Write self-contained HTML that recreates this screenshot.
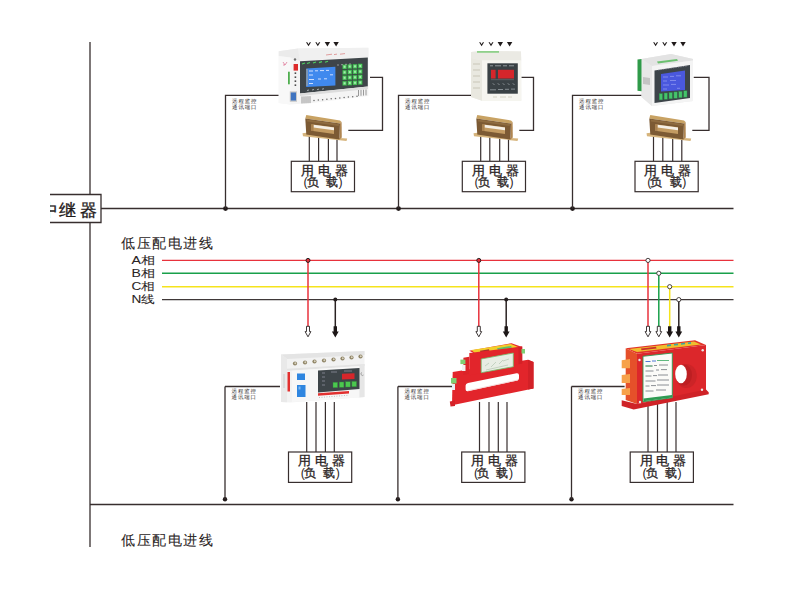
<!DOCTYPE html>
<html><head><meta charset="utf-8">
<style>
html,body{margin:0;padding:0;background:#fff;}
body{width:800px;height:600px;overflow:hidden;position:relative;font-family:"Liberation Sans",sans-serif;}
svg{position:absolute;left:0;top:0;}
</style></head><body>
<svg width="800" height="600" viewBox="0 0 800 600" font-family="Liberation Sans, sans-serif">
<line x1="90" y1="42" x2="90" y2="547" stroke="#372e2e" stroke-width="1.3"/>
<line x1="101" y1="208.5" x2="733.5" y2="208.5" stroke="#372e2e" stroke-width="1.3"/>
<line x1="90" y1="504.5" x2="733.5" y2="504.5" stroke="#372e2e" stroke-width="1.3"/>
<clipPath id="cl"><rect x="50" y="190" width="60" height="40"/></clipPath>
<path d="M50 194.5 H101 V222.5 H50" fill="#fff" stroke="#372e2e" stroke-width="1.3"/>
<text x="40.6 58.9 79.5" y="216.2" font-size="17.4" fill="#1f1a1a" clip-path="url(#cl)" stroke="#1f1a1a" stroke-width="0.3">中继器</text>
<text x="121.0 136.6 152.2 167.8 183.4 199.0" y="248.3" font-size="14" fill="#2a2424" stroke="#2a2424" stroke-width="0.08">低压配电进线</text>
<text x="121.0 136.6 152.2 167.8 183.4 199.0" y="544.6" font-size="14" fill="#2a2424" stroke="#2a2424" stroke-width="0.08">低压配电进线</text>
<text x="131.6" y="264.3" font-size="10.9" fill="#2a2424" textLength="23.6" lengthAdjust="spacingAndGlyphs" stroke="#2a2424" stroke-width="0.05">A相</text>
<text x="131.6" y="276.9" font-size="10.9" fill="#2a2424" textLength="23.6" lengthAdjust="spacingAndGlyphs" stroke="#2a2424" stroke-width="0.05">B相</text>
<text x="131.6" y="289.6" font-size="10.9" fill="#2a2424" textLength="23.6" lengthAdjust="spacingAndGlyphs" stroke="#2a2424" stroke-width="0.05">C相</text>
<text x="131.6" y="302.8" font-size="10.9" fill="#2a2424" textLength="23.6" lengthAdjust="spacingAndGlyphs" stroke="#2a2424" stroke-width="0.05">N线</text>
<line x1="162" y1="260.4" x2="733.5" y2="260.4" stroke="#e8323c" stroke-width="1.4"/>
<line x1="162" y1="273.3" x2="733.5" y2="273.3" stroke="#19a04a" stroke-width="1.4"/>
<line x1="162" y1="286.7" x2="733.5" y2="286.7" stroke="#f5e31c" stroke-width="1.4"/>
<line x1="162" y1="299.6" x2="733.5" y2="299.6" stroke="#3f3838" stroke-width="1.4"/>
<circle cx="225.5" cy="208.6" r="2.4" fill="#231c1c"/>
<circle cx="398.5" cy="208.6" r="2.4" fill="#231c1c"/>
<circle cx="572.5" cy="208.6" r="2.4" fill="#231c1c"/>
<circle cx="225" cy="499.3" r="2.2" fill="#231c1c"/>
<line x1="225" y1="386.5" x2="225" y2="499.3" stroke="#372e2e" stroke-width="1.3"/>
<circle cx="397.9" cy="499.3" r="2.2" fill="#231c1c"/>
<line x1="397.9" y1="386.5" x2="397.9" y2="499.3" stroke="#372e2e" stroke-width="1.3"/>
<circle cx="571.5" cy="499.3" r="2.2" fill="#231c1c"/>
<line x1="571.5" y1="386.5" x2="571.5" y2="499.3" stroke="#372e2e" stroke-width="1.3"/>
<polyline points="225.5,208.5 225.5,95.3 279,95.3" fill="none" stroke="#372e2e" stroke-width="1.3"/>
<text x="232.1 238.4 244.7 251.0" y="103.30000000000001" font-size="5.4" fill="#2a2626" style="text-rendering:geometricPrecision">远程监控</text>
<text x="232.1 238.4 244.7 251.0" y="109.30000000000001" font-size="5.4" fill="#2a2626" style="text-rendering:geometricPrecision">通讯端口</text>
<polyline points="370,77.3 382.5,77.3 382.5,130.4 348.3,130.4" fill="none" stroke="#372e2e" stroke-width="1.3"/>
<line x1="309.3" y1="136" x2="309.3" y2="161.3" stroke="#372e2e" stroke-width="1.2"/>
<line x1="318.6" y1="136" x2="318.6" y2="161.3" stroke="#372e2e" stroke-width="1.2"/>
<line x1="328.4" y1="136" x2="328.4" y2="161.3" stroke="#372e2e" stroke-width="1.2"/>
<line x1="337" y1="136" x2="337" y2="161.3" stroke="#372e2e" stroke-width="1.2"/>
<rect x="291.3" y="161.3" width="63.2" height="30.4" fill="#fff" stroke="#372e2e" stroke-width="1.2"/>
<text x="300.7 317.5 334.5" y="174.5" font-size="12.6" fill="#2a2424" stroke="#2a2424" stroke-width="0.3">用电器</text>
<text x="303.5" y="185.9" font-size="12.3" fill="#2a2424">(</text>
<text x="306.7 325.8" y="185.9" font-size="12.3" fill="#2a2424" stroke="#2a2424" stroke-width="0.3">负载</text>
<text x="338.5" y="185.9" font-size="12.3" fill="#2a2424">)</text>
<path d="M306.0 42.2 L308.5 46.3 L311.0 42.2 L309.7 42.2 L308.5 44.3 L307.3 42.2 Z" fill="#1f1a1a"/>
<path d="M315.3 42.2 L317.8 46.3 L320.3 42.2 L319.0 42.2 L317.8 44.3 L316.6 42.2 Z" fill="#1f1a1a"/>
<path d="M324.7 42 H330.09999999999997 L327.4 46.4 Z" fill="#1f1a1a"/>
<path d="M333.40000000000003 42 H338.8 L336.1 46.4 Z" fill="#1f1a1a"/>
<g transform="translate(302.5,115.1)"><polygon points="0.00,18.10 3.80,17.70 37.00,22.90 44.70,23.30 44.00,25.80 0.50,21.20" fill="#d6b47c"/><polygon points="3.75,0.00 37.50,5.30 39.10,6.90 37.50,8.50 2.80,3.50" fill="#c8a263"/><polygon points="37.50,8.50 39.10,6.90 39.30,22.50 36.90,24.40" fill="#b08652"/><polygon points="2.80,3.50 37.50,8.50 36.90,24.40 3.75,19.40" fill="#7c5a34"/><polygon points="4.50,4.40 36.50,8.90 36.10,10.90 4.50,6.40" fill="#8e6b40"/><polygon points="8.75,9.10 31.50,12.20 31.50,18.80 8.75,15.65" fill="#c39b62"/><polygon points="11.00,9.60 31.50,12.40 31.50,15.10 11.00,12.40" fill="#f5efe6"/><polygon points="8.75,9.10 11.00,9.60 11.00,15.80 8.75,15.65" fill="#a98150"/></g>
<polyline points="398.5,208.5 398.5,95.3 476,95.3" fill="none" stroke="#372e2e" stroke-width="1.3"/>
<text x="405.1 411.4 417.7 424.0" y="103.30000000000001" font-size="5.4" fill="#2a2626" style="text-rendering:geometricPrecision">远程监控</text>
<text x="405.1 411.4 417.7 424.0" y="109.30000000000001" font-size="5.4" fill="#2a2626" style="text-rendering:geometricPrecision">通讯端口</text>
<polyline points="521.3,77.3 533.5,77.3 533.5,130.4 519.3,130.4" fill="none" stroke="#372e2e" stroke-width="1.3"/>
<line x1="480.7" y1="136" x2="480.7" y2="161.3" stroke="#372e2e" stroke-width="1.2"/>
<line x1="489.8" y1="136" x2="489.8" y2="161.3" stroke="#372e2e" stroke-width="1.2"/>
<line x1="499.7" y1="136" x2="499.7" y2="161.3" stroke="#372e2e" stroke-width="1.2"/>
<line x1="508.5" y1="136" x2="508.5" y2="161.3" stroke="#372e2e" stroke-width="1.2"/>
<rect x="462.3" y="161.3" width="63.2" height="30.4" fill="#fff" stroke="#372e2e" stroke-width="1.2"/>
<text x="471.7 488.5 505.5" y="174.5" font-size="12.6" fill="#2a2424" stroke="#2a2424" stroke-width="0.3">用电器</text>
<text x="474.5" y="185.9" font-size="12.3" fill="#2a2424">(</text>
<text x="477.7 496.8" y="185.9" font-size="12.3" fill="#2a2424" stroke="#2a2424" stroke-width="0.3">负载</text>
<text x="509.5" y="185.9" font-size="12.3" fill="#2a2424">)</text>
<path d="M479.1 42.2 L481.6 46.3 L484.1 42.2 L482.8 42.2 L481.6 44.3 L480.40000000000003 42.2 Z" fill="#1f1a1a"/>
<path d="M488.5 42.2 L491 46.3 L493.5 42.2 L492.2 42.2 L491 44.3 L489.8 42.2 Z" fill="#1f1a1a"/>
<path d="M497.6 42 H503.0 L500.3 46.4 Z" fill="#1f1a1a"/>
<path d="M506.90000000000003 42 H512.3000000000001 L509.6 46.4 Z" fill="#1f1a1a"/>
<g transform="translate(473.5,115.1)"><polygon points="0.00,18.10 3.80,17.70 37.00,22.90 44.70,23.30 44.00,25.80 0.50,21.20" fill="#d6b47c"/><polygon points="3.75,0.00 37.50,5.30 39.10,6.90 37.50,8.50 2.80,3.50" fill="#c8a263"/><polygon points="37.50,8.50 39.10,6.90 39.30,22.50 36.90,24.40" fill="#b08652"/><polygon points="2.80,3.50 37.50,8.50 36.90,24.40 3.75,19.40" fill="#7c5a34"/><polygon points="4.50,4.40 36.50,8.90 36.10,10.90 4.50,6.40" fill="#8e6b40"/><polygon points="8.75,9.10 31.50,12.20 31.50,18.80 8.75,15.65" fill="#c39b62"/><polygon points="11.00,9.60 31.50,12.40 31.50,15.10 11.00,12.40" fill="#f5efe6"/><polygon points="8.75,9.10 11.00,9.60 11.00,15.80 8.75,15.65" fill="#a98150"/></g>
<polyline points="572.5,208.5 572.5,95.3 645,95.3" fill="none" stroke="#372e2e" stroke-width="1.3"/>
<text x="579.1 585.4 591.7 598.0" y="103.30000000000001" font-size="5.4" fill="#2a2626" style="text-rendering:geometricPrecision">远程监控</text>
<text x="579.1 585.4 591.7 598.0" y="109.30000000000001" font-size="5.4" fill="#2a2626" style="text-rendering:geometricPrecision">通讯端口</text>
<polyline points="693.75,77.3 709,77.3 709,130.4 692.3,130.4" fill="none" stroke="#372e2e" stroke-width="1.3"/>
<line x1="653.5" y1="136" x2="653.5" y2="161.3" stroke="#372e2e" stroke-width="1.2"/>
<line x1="662.8" y1="136" x2="662.8" y2="161.3" stroke="#372e2e" stroke-width="1.2"/>
<line x1="672.7" y1="136" x2="672.7" y2="161.3" stroke="#372e2e" stroke-width="1.2"/>
<line x1="681.8" y1="136" x2="681.8" y2="161.3" stroke="#372e2e" stroke-width="1.2"/>
<rect x="635" y="161.3" width="63.2" height="30.4" fill="#fff" stroke="#372e2e" stroke-width="1.2"/>
<text x="644.4 661.2 678.2" y="174.5" font-size="12.6" fill="#2a2424" stroke="#2a2424" stroke-width="0.3">用电器</text>
<text x="647.2" y="185.9" font-size="12.3" fill="#2a2424">(</text>
<text x="650.4 669.5" y="185.9" font-size="12.3" fill="#2a2424" stroke="#2a2424" stroke-width="0.3">负载</text>
<text x="682.2" y="185.9" font-size="12.3" fill="#2a2424">)</text>
<path d="M653.1 42.2 L655.6 46.3 L658.1 42.2 L656.8000000000001 42.2 L655.6 44.3 L654.4 42.2 Z" fill="#1f1a1a"/>
<path d="M662.25 42.2 L664.75 46.3 L667.25 42.2 L665.95 42.2 L664.75 44.3 L663.55 42.2 Z" fill="#1f1a1a"/>
<path d="M671.3 42 H676.7 L674 46.4 Z" fill="#1f1a1a"/>
<path d="M680.3 42 H685.7 L683 46.4 Z" fill="#1f1a1a"/>
<g transform="translate(646.5,115.1)"><polygon points="0.00,18.10 3.80,17.70 37.00,22.90 44.70,23.30 44.00,25.80 0.50,21.20" fill="#d6b47c"/><polygon points="3.75,0.00 37.50,5.30 39.10,6.90 37.50,8.50 2.80,3.50" fill="#c8a263"/><polygon points="37.50,8.50 39.10,6.90 39.30,22.50 36.90,24.40" fill="#b08652"/><polygon points="2.80,3.50 37.50,8.50 36.90,24.40 3.75,19.40" fill="#7c5a34"/><polygon points="4.50,4.40 36.50,8.90 36.10,10.90 4.50,6.40" fill="#8e6b40"/><polygon points="8.75,9.10 31.50,12.20 31.50,18.80 8.75,15.65" fill="#c39b62"/><polygon points="11.00,9.60 31.50,12.40 31.50,15.10 11.00,12.40" fill="#f5efe6"/><polygon points="8.75,9.10 11.00,9.60 11.00,15.80 8.75,15.65" fill="#a98150"/></g>
<g><polygon points="278.7,51.3 298,48.6 368.4,47.8 368.4,96 312,103 290,104.5 278.7,103" fill="#f4f4f4"/><polygon points="298,48.6 368.4,47.8 368.4,57 300,61" fill="#f0f0f0"/><path d="M326 55 l6 -0.8 M334 54.6 l3 -0.5 M340 54.2 l5 -0.6" stroke="#d87a7a" stroke-width="0.7"/><polygon points="278.7,51.3 298,48.6 300,61 290.5,57.5 278.7,56" fill="#ebebeb"/><polygon points="278.7,56 290.5,57.5 290.5,104.5 278.7,103" fill="#f8f8f8"/><path d="M283 62 l2 3 l2 -3 M284 64 v2" stroke="#e07a9a" stroke-width="0.8" fill="none"/><rect x="288" y="71.7" width="1.8" height="12.6" fill="#4fae4f"/><polygon points="300,61.2 367.8,57.4 367.8,86.5 300,93.5" fill="#3e4549"/><polygon points="306.2,68.4 335.4,66.7 335.4,85.4 306.2,87" fill="#4089ee"/><rect x="306.2" y="69" width="1.6" height="17" fill="#8a9aa8"/><path d="M309 71 h4 M315 70.8 h3 M320 70.6 h4 M326 70.4 h3 M309 75 h4 M330 74.8 h3 M309 79.5 h5 M318 79 h3 M324 78.8 h3 M309 83.5 h4" stroke="#dfe9ff" stroke-width="0.9"/><path d="M302 64 l3 -1 M307 63.5 l3 -1 M313 63 l3 -1 M319 62.6 l3 -1 M325 62.2 l3 -1" stroke="#4fd060" stroke-width="1.2"/><path d="M307 90.5 l2 -0.5 M312 90 l2 -0.5 M317 89.6 l2 -0.5 M322 89.2 l2 -0.5" stroke="#cfd5da" stroke-width="0.7"/><circle cx="295" cy="59.5" r="1.2" fill="#6e6e6e"/><rect x="293.6" y="64" width="4.4" height="6.6" fill="#dd2a2a"/><rect x="294.6" y="72.5" width="1.6" height="1.3" fill="#222"/><rect x="294.6" y="76.5" width="1.6" height="1.3" fill="#222"/><rect x="294.6" y="80.5" width="1.6" height="1.3" fill="#222"/><rect x="294.6" y="84.5" width="1.6" height="1.3" fill="#222"/><rect x="289.8" y="91.3" width="7.2" height="10.5" fill="#c9c9c9"/><rect x="290.8" y="92.5" width="5.2" height="8" fill="#3f74c0"/><path d="M302 96.5 v7 M304 96.4 v7 M306 96.3 v7 M308 96.2 v7 M310 96.1 v7" stroke="#8d8d8d" stroke-width="0.9"/><path d="M358.5 90 v6 M361 89.8 v6 M363.5 89.6 v6 M366 89.4 v6" stroke="#8d8d8d" stroke-width="0.9"/><polygon points="300,93.5 367.8,86.5 367.8,89 300,96" fill="#dcdcdc"/>
<rect x="342.5" y="64.6" width="4.2" height="4.4" fill="#52cc62" stroke="#2b7a3a" stroke-width="0.4"/><rect x="343.7" y="65.8" width="1.8" height="2" fill="#a6eab0"/>
<rect x="347.7" y="64.3" width="4.2" height="4.4" fill="#52cc62" stroke="#2b7a3a" stroke-width="0.4"/><rect x="348.9" y="65.5" width="1.8" height="2" fill="#a6eab0"/>
<rect x="352.9" y="64.1" width="4.2" height="4.4" fill="#52cc62" stroke="#2b7a3a" stroke-width="0.4"/><rect x="354.1" y="65.3" width="1.8" height="2" fill="#a6eab0"/>
<rect x="358.1" y="63.8" width="4.2" height="4.4" fill="#52cc62" stroke="#2b7a3a" stroke-width="0.4"/><rect x="359.3" y="65.0" width="1.8" height="2" fill="#a6eab0"/>
<rect x="342.5" y="70.1" width="4.2" height="4.4" fill="#52cc62" stroke="#2b7a3a" stroke-width="0.4"/><rect x="343.7" y="71.3" width="1.8" height="2" fill="#a6eab0"/>
<rect x="347.7" y="69.8" width="4.2" height="4.4" fill="#52cc62" stroke="#2b7a3a" stroke-width="0.4"/><rect x="348.9" y="71.0" width="1.8" height="2" fill="#a6eab0"/>
<rect x="352.9" y="69.6" width="4.2" height="4.4" fill="#52cc62" stroke="#2b7a3a" stroke-width="0.4"/><rect x="354.1" y="70.8" width="1.8" height="2" fill="#a6eab0"/>
<rect x="358.1" y="69.3" width="4.2" height="4.4" fill="#52cc62" stroke="#2b7a3a" stroke-width="0.4"/><rect x="359.3" y="70.5" width="1.8" height="2" fill="#a6eab0"/>
<rect x="342.5" y="75.6" width="4.2" height="4.4" fill="#52cc62" stroke="#2b7a3a" stroke-width="0.4"/><rect x="343.7" y="76.8" width="1.8" height="2" fill="#a6eab0"/>
<rect x="347.7" y="75.3" width="4.2" height="4.4" fill="#52cc62" stroke="#2b7a3a" stroke-width="0.4"/><rect x="348.9" y="76.5" width="1.8" height="2" fill="#a6eab0"/>
<rect x="352.9" y="75.1" width="4.2" height="4.4" fill="#52cc62" stroke="#2b7a3a" stroke-width="0.4"/><rect x="354.1" y="76.3" width="1.8" height="2" fill="#a6eab0"/>
<rect x="358.1" y="74.8" width="4.2" height="4.4" fill="#52cc62" stroke="#2b7a3a" stroke-width="0.4"/><rect x="359.3" y="76.0" width="1.8" height="2" fill="#a6eab0"/>
<rect x="342.5" y="81.1" width="4.2" height="4.4" fill="#52cc62" stroke="#2b7a3a" stroke-width="0.4"/><rect x="343.7" y="82.3" width="1.8" height="2" fill="#a6eab0"/>
<rect x="347.7" y="80.8" width="4.2" height="4.4" fill="#52cc62" stroke="#2b7a3a" stroke-width="0.4"/><rect x="348.9" y="82.0" width="1.8" height="2" fill="#a6eab0"/>
<rect x="352.9" y="80.6" width="4.2" height="4.4" fill="#52cc62" stroke="#2b7a3a" stroke-width="0.4"/><rect x="354.1" y="81.8" width="1.8" height="2" fill="#a6eab0"/>
<rect x="358.1" y="80.3" width="4.2" height="4.4" fill="#52cc62" stroke="#2b7a3a" stroke-width="0.4"/><rect x="359.3" y="81.5" width="1.8" height="2" fill="#a6eab0"/>
<circle cx="314.0" cy="100.5" r="0.75" fill="#6a6a6a"/>
<circle cx="318.3" cy="100.1" r="0.75" fill="#6a6a6a"/>
<circle cx="322.6" cy="99.7" r="0.75" fill="#6a6a6a"/>
<circle cx="326.9" cy="99.2" r="0.75" fill="#6a6a6a"/>
<circle cx="331.2" cy="98.8" r="0.75" fill="#6a6a6a"/>
<circle cx="335.5" cy="98.4" r="0.75" fill="#6a6a6a"/>
<circle cx="339.8" cy="98.0" r="0.75" fill="#6a6a6a"/>
<circle cx="344.1" cy="97.6" r="0.75" fill="#6a6a6a"/>
<circle cx="348.4" cy="97.1" r="0.75" fill="#6a6a6a"/>
<circle cx="352.7" cy="96.7" r="0.75" fill="#6a6a6a"/>
<circle cx="357.0" cy="96.3" r="0.75" fill="#6a6a6a"/>
<path d="M337 65 h2 M341 64.7 h2 M345 64.3 h2 M349 64 h2" stroke="#ccc" stroke-width="0.6"/>
</g>
<g><polygon points="471,52 482,51 521,51.5 521.3,100.7 482,100.7 471,97" fill="#f0efe9"/><polygon points="471,52 482,51 521,51.5 521.3,60.4 482,60.4 471,58" fill="#ebeae4"/><polygon points="471,58 482,60.4 482,100.7 471,97" fill="#e9e8e0"/><path d="M473 64 h7 M473 70 h7 M473 76 h7 M473 82 h7 M473 88 h7" stroke="#c9c6b8" stroke-width="1.2"/><rect x="482" y="60.4" width="39.3" height="40.3" fill="#f6f5f0"/><rect x="487.4" y="63.3" width="30.4" height="30.4" fill="#3a4145"/><path d="M490 65.8 h3 M495 65.8 h6 M503 65.8 h4 M509 65.8 h5" stroke="#b9bfc3" stroke-width="0.7"/><rect x="491" y="69.8" width="4.6" height="8.7" fill="#d5262b"/><rect x="498" y="69.8" width="16" height="8.7" fill="#d5262b"/><path d="M491 79.7 h23" stroke="#6f777b" stroke-width="0.6"/><path d="M493 83.5 l1.2 1.2 M498 83.5 l1.2 1.2 M503 83.5 l1.2 1.2 M508 83.5 l1.2 1.2 M513 83.5 l1.2 1.2" stroke="#c9cfd3" stroke-width="0.8"/><path d="M490 89.8 h6 M498 89.5 h5 M505 89.3 h4 M511 89.1 h4" stroke="#a9b0b4" stroke-width="0.7"/><path d="M493 97 h4 M500 97 h6 M508 97 h4" stroke="#cfcbbd" stroke-width="0.8"/><rect x="477" y="51" width="22" height="1.8" fill="#8fd08a"/></g>
<g><polygon points="641.5,59 671,54 693,59 693,101 652,106 641.5,97" fill="#eaeaea"/><polygon points="641.5,59 671,54 693,59 693,60.5 652,66" fill="#e3e3e3"/><polygon points="641.5,59 652,66 652,106 641.5,97" fill="#e8e8e8"/><polygon points="637.5,59.5 641.5,59 641.5,91.3 637.5,90.8" fill="#2f9a49"/><polygon points="657,61.5 677,59 678,60.8 658,63.4" fill="#6cc070"/><polygon points="652,66 693,60.5 693,101 652,106" fill="#f4f4f4"/><polygon points="654.5,70.5 690,65 690,98 654.5,103" fill="#3d444a"/><polygon points="661,74 685,70.5 685,90 661,91.5" fill="#4a58de"/><path d="M663 77 h5 M670 76.4 h4 M676 75.8 h5 M663 81 h4 M670 80.5 h6 M663 85 h6 M671 84.4 h5 M663 89 h4 M677 88.3 h3" stroke="#8f98f0" stroke-width="0.8"/><path d="M658 70 l29 -4" stroke="#aab" stroke-width="0.5" stroke-dasharray="1.5 1"/><polygon points="643,77 650,78 650,85 643,84" fill="#c4c4c4"/>
<rect x="659.2" y="93.6" width="3.3" height="6.3" fill="#45c46b" stroke="#2c8a4a" stroke-width="0.4"/>
<rect x="664.1" y="93.0" width="3.3" height="6.3" fill="#45c46b" stroke="#2c8a4a" stroke-width="0.4"/>
<rect x="669.0" y="92.5" width="3.3" height="6.3" fill="#45c46b" stroke="#2c8a4a" stroke-width="0.4"/>
<rect x="673.9" y="91.9" width="3.3" height="6.3" fill="#45c46b" stroke="#2c8a4a" stroke-width="0.4"/>
<rect x="678.8" y="91.4" width="3.3" height="6.3" fill="#45c46b" stroke="#2c8a4a" stroke-width="0.4"/>
<rect x="683.7" y="90.8" width="3.3" height="6.3" fill="#45c46b" stroke="#2c8a4a" stroke-width="0.4"/>
</g>
<polyline points="225,386.5 280,386.5" fill="none" stroke="#372e2e" stroke-width="1.3"/>
<text x="231.6 237.9 244.2 250.5" y="393.4" font-size="5.4" fill="#2a2626" style="text-rendering:geometricPrecision">远程监控</text>
<text x="231.6 237.9 244.2 250.5" y="399.4" font-size="5.4" fill="#2a2626" style="text-rendering:geometricPrecision">通讯端口</text>
<line x1="306.7" y1="402" x2="306.7" y2="452" stroke="#372e2e" stroke-width="1.2"/>
<line x1="316" y1="402" x2="316" y2="452" stroke="#372e2e" stroke-width="1.2"/>
<line x1="325.4" y1="402" x2="325.4" y2="452" stroke="#372e2e" stroke-width="1.2"/>
<line x1="334.3" y1="402" x2="334.3" y2="452" stroke="#372e2e" stroke-width="1.2"/>
<rect x="288.5" y="452" width="63.2" height="30.4" fill="#fff" stroke="#372e2e" stroke-width="1.2"/>
<text x="297.9 314.7 331.7" y="465.2" font-size="12.6" fill="#2a2424" stroke="#2a2424" stroke-width="0.3">用电器</text>
<text x="300.7" y="476.6" font-size="12.3" fill="#2a2424">(</text>
<text x="303.9 323.0" y="476.6" font-size="12.3" fill="#2a2424" stroke="#2a2424" stroke-width="0.3">负载</text>
<text x="335.7" y="476.6" font-size="12.3" fill="#2a2424">)</text>
<polyline points="397.9,386.5 454,386.5" fill="none" stroke="#372e2e" stroke-width="1.3"/>
<text x="404.5 410.8 417.1 423.4" y="393.4" font-size="5.4" fill="#2a2626" style="text-rendering:geometricPrecision">远程监控</text>
<text x="404.5 410.8 417.1 423.4" y="399.4" font-size="5.4" fill="#2a2626" style="text-rendering:geometricPrecision">通讯端口</text>
<line x1="479.5" y1="402" x2="479.5" y2="452" stroke="#372e2e" stroke-width="1.2"/>
<line x1="489" y1="402" x2="489" y2="452" stroke="#372e2e" stroke-width="1.2"/>
<line x1="498.3" y1="402" x2="498.3" y2="452" stroke="#372e2e" stroke-width="1.2"/>
<line x1="507" y1="402" x2="507" y2="452" stroke="#372e2e" stroke-width="1.2"/>
<rect x="461.7" y="452" width="63.2" height="30.4" fill="#fff" stroke="#372e2e" stroke-width="1.2"/>
<text x="471.1 487.9 504.9" y="465.2" font-size="12.6" fill="#2a2424" stroke="#2a2424" stroke-width="0.3">用电器</text>
<text x="473.9" y="476.6" font-size="12.3" fill="#2a2424">(</text>
<text x="477.1 496.2" y="476.6" font-size="12.3" fill="#2a2424" stroke="#2a2424" stroke-width="0.3">负载</text>
<text x="508.9" y="476.6" font-size="12.3" fill="#2a2424">)</text>
<polyline points="571.5,386.5 624.6,386.5" fill="none" stroke="#372e2e" stroke-width="1.3"/>
<text x="578.1 584.4 590.7 597.0" y="393.4" font-size="5.4" fill="#2a2626" style="text-rendering:geometricPrecision">远程监控</text>
<text x="578.1 584.4 590.7 597.0" y="399.4" font-size="5.4" fill="#2a2626" style="text-rendering:geometricPrecision">通讯端口</text>
<line x1="648" y1="402" x2="648" y2="452" stroke="#372e2e" stroke-width="1.2"/>
<line x1="657.5" y1="402" x2="657.5" y2="452" stroke="#372e2e" stroke-width="1.2"/>
<line x1="667.2" y1="402" x2="667.2" y2="452" stroke="#372e2e" stroke-width="1.2"/>
<line x1="676" y1="402" x2="676" y2="452" stroke="#372e2e" stroke-width="1.2"/>
<rect x="630.2" y="452" width="63.2" height="30.4" fill="#fff" stroke="#372e2e" stroke-width="1.2"/>
<text x="639.6 656.4 673.4" y="465.2" font-size="12.6" fill="#2a2424" stroke="#2a2424" stroke-width="0.3">用电器</text>
<text x="642.4000000000001" y="476.6" font-size="12.3" fill="#2a2424">(</text>
<text x="645.6 664.7" y="476.6" font-size="12.3" fill="#2a2424" stroke="#2a2424" stroke-width="0.3">负载</text>
<text x="677.4000000000001" y="476.6" font-size="12.3" fill="#2a2424">)</text>
<g><polygon points="281,354.5 364.5,351 364.5,397 290,402.5 281,402" fill="#f2f2f2"/><polygon points="281,354.5 364.5,351 364.5,355 287,359" fill="#e4e4e4"/><polygon points="281,354.5 287,358.5 287,402.3 281,402" fill="#e9e9e9"/><polygon points="287,368.8 364.5,364 364.5,366 287,370.8" fill="#e3e3e3"/><polygon points="292,370.8 359.5,366 359.5,397.5 292,402" fill="#f7f7f7"/><polygon points="359.5,366 364.5,364 364.5,397 359.5,397.5" fill="#e6e6e6"/><polygon points="318,370.5 359.5,368 359.5,389 318,392.5" fill="#3e4549"/><polygon points="342,373.8 354.5,373.2 354.5,379 342,379.6" fill="#d7262b"/><path d="M322 373 h3 M322 377 h3 M322 381 h3 M322 385 h3 M331 372 h6 M344 371 h8" stroke="#aab" stroke-width="0.6"/><rect x="297" y="373.5" width="8" height="6.5" fill="#2f86e0"/><rect x="297" y="385" width="8.5" height="12" fill="#2f86e0"/><rect x="298.5" y="386.5" width="2" height="3" fill="#7fb8f0"/><rect x="287.5" y="372" width="2.5" height="19.5" fill="#e2302f"/><path d="M284 374 v14" stroke="#bbb" stroke-width="0.6"/><polygon points="318,393.2 349,391 349,393.5 318,395.7" fill="#e2302f"/><path d="M319 397.5 l30 -2.3" stroke="#999" stroke-width="0.6" stroke-dasharray="1 1.5"/><path d="M362 372.5 a1.5 1.5 0 1 0 1.5 2.5" stroke="#777" stroke-width="0.6" fill="none"/>
<circle cx="295" cy="363.5" r="2.1" fill="#8f8466"/><circle cx="295.3" cy="363.3" r="1" fill="#d8d2bf"/>
<circle cx="305" cy="362.5" r="2.1" fill="#8f8466"/><circle cx="305.3" cy="362.3" r="1" fill="#d8d2bf"/>
<circle cx="314.5" cy="361.5" r="2.1" fill="#8f8466"/><circle cx="314.8" cy="361.3" r="1" fill="#d8d2bf"/>
<circle cx="324" cy="360.5" r="2.1" fill="#8f8466"/><circle cx="324.3" cy="360.3" r="1" fill="#d8d2bf"/>
<circle cx="333.5" cy="359.5" r="2.1" fill="#8f8466"/><circle cx="333.8" cy="359.3" r="1" fill="#d8d2bf"/>
<circle cx="342.5" cy="358.5" r="2.1" fill="#8f8466"/><circle cx="342.8" cy="358.3" r="1" fill="#d8d2bf"/>
<circle cx="351.5" cy="357.5" r="2.1" fill="#8f8466"/><circle cx="351.8" cy="357.3" r="1" fill="#d8d2bf"/>
<circle cx="360.5" cy="356.5" r="2.1" fill="#8f8466"/><circle cx="360.8" cy="356.3" r="1" fill="#d8d2bf"/>
<rect x="333.0" y="382.3" width="4.6" height="5.3" fill="#4cc84f" stroke="#2e8a3a" stroke-width="0.4"/>
<rect x="339.3" y="382.0" width="4.6" height="5.3" fill="#4cc84f" stroke="#2e8a3a" stroke-width="0.4"/>
<rect x="345.6" y="381.7" width="4.6" height="5.3" fill="#4cc84f" stroke="#2e8a3a" stroke-width="0.4"/>
<rect x="351.9" y="381.4" width="4.6" height="5.3" fill="#4cc84f" stroke="#2e8a3a" stroke-width="0.4"/>
</g>
<g><polygon points="452.7,372 528,359.8 533.5,362 533.5,388.5 452,405.3" fill="#e2252b"/><polygon points="528,359.8 533.5,362 533.5,388.5 528,389.6" fill="#d22127"/><polygon points="449.8,401.5 455,400.5 455,406 450.5,406.5" fill="#d42228"/><path d="M468 382.9 L516.5 373.3 Q519 372.9 519 375.2 L519 378.3 Q519 380 517 380.4 L468 391.2 Q465.6 391.7 465.6 389.3 L465.6 385.6 Q465.6 383.4 468 382.9 Z" fill="#ffffff"/><polygon points="468,390.2 518,379.6 518,380.5 468,391.1" fill="#f3d6d6"/><polygon points="463.4,357.8 469.3,356.8 469.3,374 463.4,375" fill="#dc2328"/><rect x="460.4" y="359.6" width="5" height="4.5" fill="#7fcf73"/><rect x="462" y="365" width="3.5" height="6" fill="#f2f2f2"/><polygon points="469.3,350.8 511.5,343.2 522.2,347 477,354.8" fill="#e8262b"/><polygon points="471.5,350 511,343.9 518.5,347.2 476,354.2" fill="#f2cf2a"/><polygon points="480,350.8 489,349.3 489.5,351.2 480.5,352.7" fill="#a8302a"/><polygon points="497,348.2 511,345.9 512,347.6 498,349.9" fill="#5fc06a"/><polygon points="469.3,353 522.2,346.5 522.2,363.5 469.3,375.5" fill="#e2252b"/><polygon points="518.5,347 522.2,346.5 522.2,363.5 518.5,364.3" fill="#d22127"/><polygon points="481.2,359 513.3,353 513.3,366.7 481.2,372.7" fill="#e8ede4" stroke="#6fbf6a" stroke-width="0.8"/><path d="M485 366 l4 -3 M491 367 l5 -5 M499 364 l4 -4 M486 370 l22 -5 M503 361 l6 -2" stroke="#a9bfa8" stroke-width="0.6"/><rect x="521.5" y="349" width="3.5" height="4.5" fill="#7fcf73"/><rect x="451" y="378" width="5.5" height="5.5" fill="#7fcf73"/><rect x="452" y="384" width="3" height="6" fill="#e8f0f6"/></g>
<g><polygon points="625.7,348.3 695,340.3 706,345 637,353.7" fill="#e2342a"/><polygon points="629,349 694,341.5 701,344.5 637,352" fill="#efbf2e"/><polygon points="641,348.5 656,346.8 656.5,348.5 641.5,350.2" fill="#c9302a"/><path d="M667 345.6 l4 -0.45 M674 344.8 l4 -0.45 M681 344 l4 -0.45 M688 343.2 l3 -0.35" stroke="#3aa6a0" stroke-width="1.6"/><polygon points="625.7,348.3 637,353.7 637,404 625.7,400" fill="#e5502a"/><polygon points="621.7,360.3 630,359 630,368.3 621.7,368.3" fill="#f7a24a"/><polygon points="621.7,375 630,374 630,383 621.7,383" fill="#f7a24a"/><polygon points="621.7,389 630,388 630,395 621.7,395" fill="#f7a24a"/><polygon points="637,353.7 706,345 706,391 637,404" fill="#dc272b"/><polygon points="621.7,400.3 637,404 706,389.5 708.7,392.3 708.7,394.3 633.7,409.5 621.7,406" fill="#cf2227"/><polygon points="643,356.3 672.3,353 672.3,397.7 643,401.7" fill="#fbfbf8" stroke="#2e9b52" stroke-width="0.9"/><polygon points="643.5,398.6 672,394.9 672,397.4 643.5,401.2" fill="#2e9b52"/><path d="M645.5 366 h7 M654 365.5 h3 M659 365 h9 M645.5 371 h8 M656 370 h3 M661 369.6 h6 M645.5 376 h6 M653 375.6 h4 M658 375 h10 M645.5 381 h10 M657 380 h12 M645.5 386 h4 M651 385.6 h5 M657 385 h12 M645.5 391 h8 M656 390 h10" stroke="#6f747a" stroke-width="0.8"/><path d="M645.5 361.5 h5 M652 361 h4" stroke="#3a6ad0" stroke-width="0.9"/><path d="M657 360.5 h12 M645.5 366 h7" stroke="#3aa860" stroke-width="0.8"/><ellipse cx="686.3" cy="376" rx="11" ry="12.3" fill="#dc272b"/><ellipse cx="686.3" cy="376" rx="10.5" ry="12" fill="#cc2427"/><ellipse cx="684" cy="375" rx="8" ry="10.5" fill="#bd1f22"/><ellipse cx="681" cy="374" rx="5.8" ry="9.3" fill="#ffffff"/><circle cx="639.5" cy="360" r="1.2" fill="#e8e8e8"/><circle cx="702.7" cy="350.3" r="1.2" fill="#e8e8e8"/><circle cx="702" cy="389.7" r="1.2" fill="#e8e8e8"/><circle cx="640" cy="402" r="1.2" fill="#e8e8e8"/></g>
<line x1="308" y1="260.4" x2="308" y2="327.5" stroke="#e8323c" stroke-width="1.5"/>
<circle cx="308" cy="260.4" r="2" fill="#e8323c" stroke="#231c1c" stroke-width="1"/>
<path d="M306.5 326.3 V331.6 H305.1 L308 336.8 L310.9 331.6 H309.5 V326.3 Z" fill="#fff" stroke="#2a2424" stroke-width="0.9"/>
<line x1="335.3" y1="299.6" x2="335.3" y2="327.5" stroke="#2a2222" stroke-width="1.5"/>
<circle cx="335.3" cy="299.6" r="2" fill="#231c1c"/>
<path d="M333.6 326.3 V331.6 H331.90000000000003 L335.3 337.5 L338.7 331.6 H337.0 V326.3 Z" fill="#1d1717"/>
<line x1="478.8" y1="260.4" x2="478.8" y2="327.5" stroke="#e8323c" stroke-width="1.5"/>
<circle cx="478.8" cy="260.4" r="2" fill="#e8323c" stroke="#231c1c" stroke-width="1"/>
<path d="M477.3 326.3 V331.6 H475.90000000000003 L478.8 336.8 L481.7 331.6 H480.3 V326.3 Z" fill="#fff" stroke="#2a2424" stroke-width="0.9"/>
<line x1="506.2" y1="299.6" x2="506.2" y2="327.5" stroke="#2a2222" stroke-width="1.5"/>
<circle cx="506.2" cy="299.6" r="2" fill="#231c1c"/>
<path d="M504.5 326.3 V331.6 H502.8 L506.2 337.5 L509.59999999999997 331.6 H507.9 V326.3 Z" fill="#1d1717"/>
<line x1="648" y1="260.4" x2="648" y2="327.5" stroke="#e8323c" stroke-width="1.5"/>
<circle cx="648" cy="260.4" r="2.1" fill="#fff" stroke="#2a2424" stroke-width="0.85"/>
<path d="M646.5 326.3 V331.6 H645.1 L648 336.8 L650.9 331.6 H649.5 V326.3 Z" fill="#fff" stroke="#2a2424" stroke-width="0.9"/>
<line x1="658.8" y1="273.3" x2="658.8" y2="327.5" stroke="#19a04a" stroke-width="1.5"/>
<circle cx="658.8" cy="273.3" r="2.1" fill="#fff" stroke="#2a2424" stroke-width="0.85"/>
<path d="M657.3 326.3 V331.6 H655.9 L658.8 336.8 L661.6999999999999 331.6 H660.3 V326.3 Z" fill="#fff" stroke="#2a2424" stroke-width="0.9"/>
<line x1="669.7" y1="286.7" x2="669.7" y2="327.5" stroke="#f5e31c" stroke-width="1.5"/>
<circle cx="669.7" cy="286.7" r="2.1" fill="#fff" stroke="#2a2424" stroke-width="0.85"/>
<path d="M668.0 326.3 V331.6 H666.3000000000001 L669.7 337.5 L673.1 331.6 H671.4000000000001 V326.3 Z" fill="#1d1717"/>
<line x1="678.8" y1="299.6" x2="678.8" y2="327.5" stroke="#2a2222" stroke-width="1.5"/>
<circle cx="678.8" cy="299.6" r="2.1" fill="#fff" stroke="#2a2424" stroke-width="0.85"/>
<path d="M677.0999999999999 326.3 V331.6 H675.4 L678.8 337.5 L682.1999999999999 331.6 H680.5 V326.3 Z" fill="#1d1717"/>
</svg>
</body></html>
